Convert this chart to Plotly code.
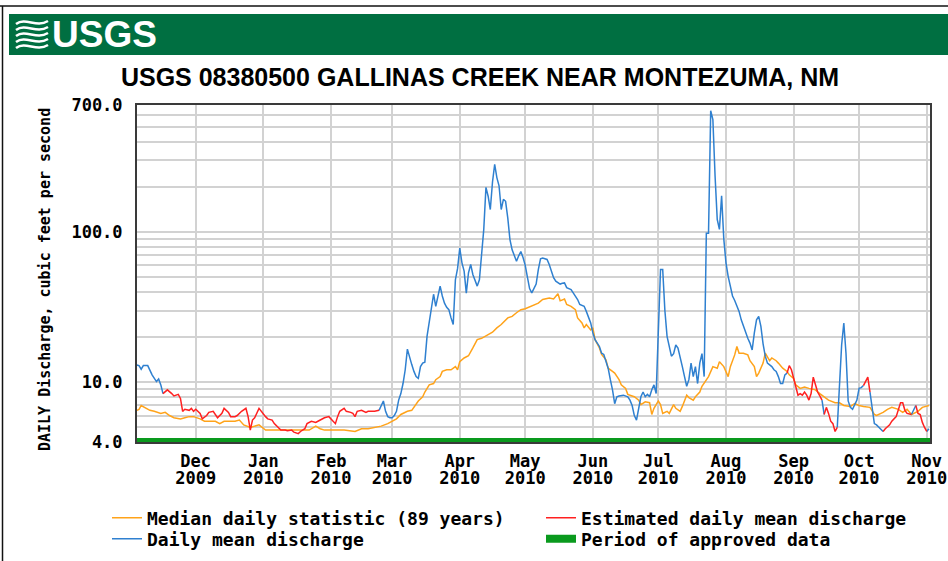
import plotly.graph_objects as go

# ---------------- data ----------------
month_ticks = ["2009-12-01", "2010-01-01", "2010-02-01", "2010-03-01", "2010-04-01", "2010-05-01",
               "2010-06-01", "2010-07-01", "2010-08-01", "2010-09-01", "2010-10-01", "2010-11-01"]
month_labels = ["Dec", "Jan", "Feb", "Mar", "Apr", "May", "Jun", "Jul", "Aug", "Sep", "Oct", "Nov"]
year_labels = ["2009", "2010", "2010", "2010", "2010", "2010", "2010", "2010", "2010", "2010", "2010", "2010"]

y_tick_values = [4, 5, 6, 7, 8, 9, 10, 20, 30, 40, 50, 60, 70, 80, 90, 100, 200, 300, 400, 500, 600, 700]
y_tick_labels = ["4.0", "", "", "", "", "", "10.0", "", "", "", "", "", "", "", "", "100.0",
                 "", "", "", "", "", "700.0"]

# Median daily statistic (89 years)
median_dates = [
    "2009-11-04", "2009-11-05", "2009-11-06", "2009-11-08", "2009-11-10", "2009-11-12", "2009-11-15",
    "2009-11-17", "2009-11-19", "2009-11-21", "2009-11-24", "2009-11-26", "2009-11-28", "2009-11-30",
    "2009-12-03", "2009-12-05", "2009-12-07", "2009-12-10", "2009-12-12", "2009-12-14", "2009-12-17",
    "2009-12-19", "2009-12-21", "2009-12-23", "2009-12-26", "2009-12-28", "2009-12-30",
    "2010-01-02", "2010-01-05", "2010-01-08", "2010-01-11", "2010-01-14", "2010-01-17", "2010-01-20",
    "2010-01-22", "2010-01-25", "2010-01-27", "2010-01-29", "2010-02-01", "2010-02-04", "2010-02-07",
    "2010-02-12", "2010-02-15", "2010-02-18", "2010-02-21", "2010-02-24", "2010-02-27",
    "2010-03-01", "2010-03-03", "2010-03-05", "2010-03-08", "2010-03-10", "2010-03-12", "2010-03-13",
    "2010-03-15", "2010-03-16", "2010-03-18", "2010-03-20", "2010-03-21", "2010-03-23", "2010-03-24",
    "2010-03-26", "2010-03-28", "2010-03-30", "2010-03-31", "2010-04-01", "2010-04-03", "2010-04-05",
    "2010-04-07", "2010-04-09", "2010-04-11", "2010-04-14", "2010-04-16", "2010-04-18", "2010-04-20",
    "2010-04-23", "2010-04-25", "2010-04-27", "2010-04-29", "2010-05-01", "2010-05-04", "2010-05-07",
    "2010-05-09", "2010-05-12", "2010-05-14", "2010-05-16", "2010-05-17", "2010-05-19", "2010-05-20",
    "2010-05-22", "2010-05-24", "2010-05-25", "2010-05-27", "2010-05-28", "2010-05-29", "2010-05-31",
    "2010-06-01", "2010-06-02", "2010-06-04", "2010-06-05", "2010-06-07", "2010-06-08", "2010-06-10",
    "2010-06-11", "2010-06-13", "2010-06-14", "2010-06-16", "2010-06-17", "2010-06-19", "2010-06-20",
    "2010-06-22", "2010-06-23", "2010-06-25", "2010-06-27", "2010-06-28", "2010-06-29",
    "2010-07-01", "2010-07-02", "2010-07-03", "2010-07-05", "2010-07-06", "2010-07-08", "2010-07-09",
    "2010-07-11", "2010-07-12", "2010-07-14", "2010-07-15", "2010-07-17", "2010-07-18", "2010-07-20",
    "2010-07-21", "2010-07-23", "2010-07-24", "2010-07-26", "2010-07-28", "2010-07-29", "2010-07-31",
    "2010-08-02", "2010-08-03", "2010-08-05", "2010-08-06", "2010-08-07", "2010-08-09", "2010-08-11",
    "2010-08-12", "2010-08-14", "2010-08-15", "2010-08-16", "2010-08-18", "2010-08-19", "2010-08-21",
    "2010-08-22", "2010-08-24", "2010-08-25", "2010-08-27", "2010-08-29", "2010-08-30",
    "2010-09-01", "2010-09-02", "2010-09-04", "2010-09-06", "2010-09-08", "2010-09-11", "2010-09-13",
    "2010-09-15", "2010-09-17", "2010-09-20", "2010-09-22", "2010-09-24", "2010-09-27", "2010-09-29",
    "2010-10-01", "2010-10-03", "2010-10-06", "2010-10-08", "2010-10-09", "2010-10-12", "2010-10-14",
    "2010-10-16", "2010-10-19", "2010-10-21", "2010-10-23", "2010-10-25", "2010-10-28", "2010-10-30",
    "2010-11-01", "2010-11-02",
]
median_cfs = [
    6.5, 6.6, 7.0, 6.7, 6.5, 6.4, 6.2,
    6.3, 6.0, 5.8, 5.7, 5.8, 5.9, 5.9,
    5.7, 5.5, 5.5, 5.5, 5.3, 5.5, 5.5,
    5.5, 5.6, 5.2, 5.0, 5.1, 5.2,
    4.8, 4.8, 4.8, 4.8, 4.75, 4.8, 4.8,
    4.8, 5.1, 4.9, 4.8, 4.8, 4.8, 4.8,
    4.7, 4.9, 4.9, 5.0, 5.1, 5.3,
    5.5, 5.7, 6.1, 6.4, 6.5, 7.1, 7.5,
    8.0, 8.6, 9.6, 9.8, 10.4, 10.9, 11.8,
    12.1, 12.1, 12.7, 12.1, 13.7, 14.5, 15.0,
    16.9, 19.2, 19.6, 20.8, 21.5, 23.0, 24.2,
    26.8, 27.4, 29.0, 30.4, 30.8, 32.0, 33.6,
    35.5, 36.3, 35.8, 38.8, 34.8, 35.8, 32.9,
    32.0, 30.4, 26.8, 24.8, 23.0, 24.2, 22.3,
    23.0, 19.2, 16.9, 15.3, 14.1, 12.4, 11.8,
    11.5, 10.4, 9.6, 9.1, 8.3, 8.1, 8.0,
    7.6, 7.1, 7.4, 7.3, 6.1, 6.7,
    7.5, 7.1, 6.2, 6.4, 6.2, 7.1, 6.7,
    6.4, 6.9, 8.2, 7.9, 7.6, 8.0, 8.6,
    9.4, 10.4, 10.9, 12.7, 12.4, 13.7, 12.7,
    10.9, 12.7, 15.2, 17.3, 15.6, 15.6, 15.2,
    13.9, 12.7, 10.9, 11.5, 13.4, 15.6, 13.9,
    14.5, 13.9, 13.4, 12.4, 11.8, 11.2,
    10.6, 9.6, 9.1, 9.3, 9.1, 8.9, 8.4,
    8.0, 7.6, 7.3, 7.3, 7.0, 6.9, 7.2,
    7.0, 6.9, 6.8, 6.1, 6.0, 6.3, 6.6,
    6.8, 6.6, 6.3, 6.6, 6.1, 6.4, 6.8,
    6.9, 7.0,
]

# Daily mean discharge (approved) -- None marks a break in the line
daily_dates = [
    "2009-11-04", "2009-11-05", "2009-11-06", "2009-11-07", "2009-11-09", "2009-11-10", "2009-11-11",
    "2009-11-13", "2009-11-14", "2009-11-15", "2009-11-16", None,
    "2010-02-23", "2010-02-24", "2010-02-25", "2010-02-26", "2010-02-27", "2010-02-28",
    "2010-03-01", "2010-03-02", "2010-03-03", "2010-03-04", "2010-03-05", "2010-03-06", "2010-03-07",
    "2010-03-08", "2010-03-09", "2010-03-10", "2010-03-11", "2010-03-12", "2010-03-13", "2010-03-14",
    "2010-03-15", "2010-03-16", "2010-03-17", "2010-03-18", "2010-03-19", "2010-03-20", "2010-03-21",
    "2010-03-22", "2010-03-23", "2010-03-24", "2010-03-25", "2010-03-26", "2010-03-27", "2010-03-28",
    "2010-03-29", "2010-03-30", "2010-03-31", "2010-04-01", "2010-04-02", "2010-04-03", "2010-04-04",
    "2010-04-05", "2010-04-06", "2010-04-07", "2010-04-08", "2010-04-09", "2010-04-10", "2010-04-11",
    "2010-04-12", "2010-04-13", "2010-04-14", "2010-04-15", "2010-04-16", "2010-04-17", "2010-04-18",
    "2010-04-19", "2010-04-20", "2010-04-21", "2010-04-22", "2010-04-23", "2010-04-24", "2010-04-25",
    "2010-04-26", "2010-04-27", "2010-04-28", "2010-04-29", "2010-04-30", "2010-05-01", "2010-05-02",
    "2010-05-03", "2010-05-04", "2010-05-05", "2010-05-06", "2010-05-07", "2010-05-08", "2010-05-09",
    "2010-05-10", "2010-05-11", "2010-05-12", "2010-05-13", "2010-05-14", "2010-05-15", "2010-05-16",
    "2010-05-17", "2010-05-18", "2010-05-19", "2010-05-20", "2010-05-22", "2010-05-23", "2010-05-25",
    "2010-05-26", "2010-05-28", "2010-05-29", "2010-05-30", "2010-05-31", "2010-06-01", "2010-06-02",
    "2010-06-04", "2010-06-05", "2010-06-06", "2010-06-07", "2010-06-08", "2010-06-09", "2010-06-10",
    "2010-06-11", "2010-06-12", "2010-06-13", "2010-06-15", "2010-06-17", "2010-06-18", "2010-06-19",
    "2010-06-20", "2010-06-21", "2010-06-22", "2010-06-23", "2010-06-24", "2010-06-25", "2010-06-26",
    "2010-06-27", "2010-06-28", "2010-06-29", "2010-06-30", "2010-07-01", "2010-07-02", "2010-07-03",
    "2010-07-04", "2010-07-05", "2010-07-06", "2010-07-07", "2010-07-08", "2010-07-09", "2010-07-10",
    "2010-07-11", "2010-07-12", "2010-07-13", "2010-07-14", "2010-07-15", "2010-07-16", "2010-07-17",
    "2010-07-18", "2010-07-19", "2010-07-20", "2010-07-21", "2010-07-22", "2010-07-23", "2010-07-24",
    "2010-07-25", "2010-07-26", "2010-07-27", "2010-07-28", "2010-07-29", "2010-07-30", "2010-07-31",
    "2010-08-01", "2010-08-02", "2010-08-03", "2010-08-04", "2010-08-05", "2010-08-06", "2010-08-07",
    "2010-08-08", "2010-08-09", "2010-08-10", "2010-08-11", "2010-08-12", "2010-08-13", "2010-08-14",
    "2010-08-15", "2010-08-16", "2010-08-17", "2010-08-18", "2010-08-19", "2010-08-20", "2010-08-21",
    "2010-08-22", "2010-08-23", "2010-08-24", "2010-08-25", "2010-08-26", "2010-08-27", "2010-08-28",
    "2010-08-29", None,
    "2010-09-14", "2010-09-15", None,
    "2010-09-21", "2010-09-22", "2010-09-23", "2010-09-24", "2010-09-25", "2010-09-26", "2010-09-27",
    "2010-09-28", "2010-09-29", "2010-09-30", "2010-10-01", "2010-10-02", "2010-10-03", None,
    "2010-10-06", "2010-10-07", "2010-10-08", "2010-10-09", "2010-10-11", "2010-10-12", None,
    "2010-10-25", "2010-10-26", "2010-10-27", None,
    "2010-11-01", "2010-11-02",
]
daily_cfs = [
    13.0, 12.9, 12.2, 12.9, 12.9, 12.0, 11.2,
    10.1, 10.5, 9.6, 8.4, None,
    6.5, 7.0, 7.5, 6.4, 5.9, 5.8,
    5.8, 6.0, 6.4, 7.6, 8.4, 9.8, 12.1,
    16.6, 14.5, 13.1, 11.8, 10.9, 10.6, 12.7,
    13.4, 13.6, 20.2, 24.8, 30.4, 38.5, 32.0,
    37.5, 43.6, 37.5, 33.6, 31.5, 30.4, 26.8,
    24.2, 48.1, 57.2, 78.0, 62.3, 54.9, 39.2,
    53.5, 60.8, 52.1, 47.0, 43.6, 48.1, 69.4,
    104, 198, 173, 141, 215, 282, 230,
    203, 141, 165, 160, 124, 89, 76,
    69.4, 63.9, 69.4, 74, 67.6, 60, 50,
    42, 39.3, 42.6, 45, 56.2, 66.3, 67,
    66.5, 65.6, 60.8, 54.8, 49.6, 47, 45.8,
    45, 45.5, 45.8, 42.6, 41.4, 39.3, 35.5,
    32.9, 32, 29.6, 27.4, 24.8, 21.3, 19.2,
    17.3, 15.6, 15.3, 13.7, 12.4, 10.4, 8.9,
    7.2, 8.0, 8.1, 8.2, 8.0, 7.6, 7.0,
    6.0, 5.6, 6.8, 8.0, 8.6, 8.0, 8.3,
    8.0, 8.9, 9.6, 8.4, 21.3, 56.2, 56.2,
    30, 20.2, 17.3, 14.9, 15.5, 17.7, 16.9,
    14.9, 12.7, 10.9, 9.4, 10.4, 13.4, 10.9,
    12.7, 9.8, 13.4, 15.5, 10.9, 98, 98,
    641, 560, 236, 121, 104, 174, 90,
    62.3, 50.7, 43.6, 37.5, 35.0, 32.0, 29.6,
    26.0, 23.5, 21.3, 19.6, 18.2, 16.4, 21.3,
    26.0, 27.4, 23.5, 18.0, 14.9, 13.4, 13.0,
    12.7, 12.1, 11.8, 10.9, 9.8, 9.8, 11.2,
    11.5, None,
    7.6, 6.1, None,
    5.0, 9.1, 17.7, 24.8, 15.6, 7.5, 6.8,
    6.6, 7.1, 7.6, 9.1, 9.2, 9.5, None,
    8.6, 6.6, 5.3, 5.2, 4.9, 4.7, None,
    6.1, 6.6, 7.0, None,
    4.7, 4.9,
]

# Estimated daily mean discharge -- None marks a break in the line
estimated_dates = [
    "2009-11-16", "2009-11-18", "2009-11-20", "2009-11-21", "2009-11-23", "2009-11-24", "2009-11-25",
    "2009-11-26", "2009-11-28", "2009-11-29", "2009-11-30", "2009-12-01", "2009-12-03", "2009-12-04",
    "2009-12-06", "2009-12-07", "2009-12-09", "2009-12-10", "2009-12-11", "2009-12-13", "2009-12-14",
    "2009-12-16", "2009-12-17", "2009-12-19", "2009-12-20", "2009-12-22", "2009-12-24", "2009-12-25",
    "2009-12-26", "2009-12-27", "2009-12-28", "2009-12-30", "2009-12-31", "2010-01-02", "2010-01-03",
    "2010-01-05", "2010-01-06", "2010-01-08", "2010-01-09", "2010-01-11", "2010-01-12", "2010-01-14",
    "2010-01-15", "2010-01-17", "2010-01-18", "2010-01-20", "2010-01-21", "2010-01-23", "2010-01-25",
    "2010-01-26", "2010-01-28", "2010-01-29", "2010-01-31", "2010-02-01", "2010-02-03", "2010-02-04",
    "2010-02-05", "2010-02-07", "2010-02-08", "2010-02-10", "2010-02-11", "2010-02-12", "2010-02-13",
    "2010-02-15", "2010-02-17", "2010-02-18", "2010-02-20", "2010-02-21", "2010-02-23", None,
    "2010-08-29", "2010-08-30", "2010-08-31", "2010-09-01", "2010-09-02", "2010-09-03", "2010-09-04",
    "2010-09-05", "2010-09-06", "2010-09-07", "2010-09-08", "2010-09-09", "2010-09-10", "2010-09-11",
    "2010-09-12", "2010-09-13", "2010-09-14", None,
    "2010-09-15", "2010-09-16", "2010-09-17", "2010-09-18", "2010-09-19", "2010-09-20", "2010-09-21", None,
    "2010-10-03", "2010-10-04", "2010-10-05", "2010-10-06", None,
    "2010-10-12", "2010-10-13", "2010-10-15", "2010-10-16", "2010-10-18", "2010-10-19", "2010-10-20",
    "2010-10-21", "2010-10-22", "2010-10-23", "2010-10-25", None,
    "2010-10-27", "2010-10-28", "2010-10-29", "2010-10-30", "2010-10-31", "2010-11-01",
]
estimated_cfs = [
    8.4, 8.9, 8.4, 8.1, 8.3, 7.8, 6.4,
    6.6, 6.5, 6.7, 6.4, 6.6, 6.2, 5.7,
    6.0, 6.3, 6.4, 6.1, 5.8, 6.2, 6.7,
    6.3, 5.9, 5.9, 6.0, 6.4, 6.7, 5.9,
    4.8, 5.6, 5.8, 6.7, 6.4, 5.9, 5.7,
    5.6, 5.3, 5.0, 4.8, 4.8, 4.75, 4.8,
    4.65, 4.55, 4.7, 4.9, 5.3, 5.5, 5.4,
    5.5, 5.7, 5.8, 5.9, 5.7, 5.3, 5.9,
    6.4, 6.7, 6.4, 6.3, 6.2, 5.9, 6.4,
    6.5, 6.3, 6.4, 6.4, 6.4, 6.5, None,
    11.5, 12.9, 12.1, 10.6, 9.2, 8.2, 8.4,
    8.2, 8.6, 8.2, 7.6, 8.4, 10.8, 9.5,
    8.6, 8.1, 7.6, None,
    6.1, 6.8, 6.2, 5.5, 5.3, 4.7, 5.0, None,
    9.5, 10.2, 10.8, 8.6, None,
    4.7, 4.9, 5.2, 5.5, 5.9, 6.5, 7.3,
    7.3, 6.5, 6.2, 6.1, None,
    7.0, 6.2, 6.1, 5.4, 5.0, 4.7,
]

approved_period = ["2009-11-01", "2010-11-05"]
approved_level = [4, 4]

# ---------------- styling helpers ----------------
W, H = 948, 561
L, R, T, B = 137, 930, 105, 442   # plot area in pixels
MONO = "DejaVu Sans Mono"


def px(x):
    return (x - L) / (R - L)


def py(y):
    return (B - y) / (B - T)


x_range = ["2009-11-04 02:00", "2010-11-02 12:00"]

fig = go.Figure()

fig.add_trace(go.Scatter(x=median_dates, y=median_cfs, mode="lines",
                         line=dict(color="#ffa31a", width=1.5),
                         name="Median daily statistic (89 years)", legend="legend"))
fig.add_trace(go.Scatter(x=daily_dates, y=daily_cfs, mode="lines", connectgaps=False,
                         line=dict(color="#2f80d0", width=1.5),
                         name="Daily mean discharge", legend="legend3"))
fig.add_trace(go.Scatter(x=estimated_dates, y=estimated_cfs, mode="lines", connectgaps=False,
                         line=dict(color="#ff2020", width=1.5),
                         name="Estimated daily mean discharge", legend="legend2"))
fig.add_trace(go.Scatter(x=approved_period, y=approved_level, mode="lines", xaxis="x2",
                         line=dict(color="#0a9a1e", width=8),
                         name="Period of approved data", legend="legend4"))

shapes = []
# outer frame lines
shapes.append(dict(type="line", xref="paper", yref="paper", x0=px(0), x1=px(W), y0=py(6), y1=py(6),
                   line=dict(color="#111111", width=1.5)))
shapes.append(dict(type="line", xref="paper", yref="paper", x0=px(2.5), x1=px(2.5), y0=py(6), y1=py(H),
                   line=dict(color="#111111", width=1.5)))
# green header band
shapes.append(dict(type="rect", xref="paper", yref="paper", x0=px(9), x1=px(W + 2), y0=py(55), y1=py(14),
                   fillcolor="#006f41", line=dict(width=0), layer="below"))
# USGS wave mark
for i in range(5):
    yy = 22 + i * 6
    path = "M {} C {} {} {}".format(
        "{:.5f},{:.5f}".format(px(16), py(yy + 2)),
        "{:.5f},{:.5f}".format(px(26), py(yy - 5)),
        "{:.5f},{:.5f}".format(px(36), py(yy + 6)),
        "{:.5f},{:.5f}".format(px(48), py(yy - 1)))
    shapes.append(dict(type="path", xref="paper", yref="paper", path=path,
                       line=dict(color="white", width=2.6)))

annotations = [
    dict(text="<b>USGS</b>", x=px(50), y=py(35), xref="paper", yref="paper", xanchor="left",
         yanchor="middle", showarrow=False,
         font=dict(family="Liberation Sans Narrow, Liberation Sans, Arial", size=37, color="white")),
    dict(text="DAILY Discharge, cubic feet per second", x=px(45), y=py(280), xref="paper",
         yref="paper", xanchor="center", yanchor="middle", textangle=-90, showarrow=False,
         font=dict(family=MONO, size=15, color="black", weight="bold")),
]

axis_common = dict(showline=True, mirror=True, linecolor="#3a3a3a", linewidth=2,
                   gridcolor="#d2d2d2", gridwidth=2, zeroline=False, ticks="")

legend_font = dict(family=MONO, size=18, color="black", weight="bold")


def legend_box(x_px, y_px):
    return dict(orientation="v", x=px(x_px), y=py(y_px), xanchor="left", yanchor="middle",
                font=legend_font, tracegroupgap=0, bgcolor="rgba(0,0,0,0)",
                itemclick=False, itemdoubleclick=False)


fig.update_layout(
    width=W, height=H,
    margin=dict(l=L, r=W - R, t=T, b=H - B, pad=0, autoexpand=False),
    paper_bgcolor="white", plot_bgcolor="white",
    title=dict(text="<b>USGS 08380500 GALLINAS CREEK NEAR MONTEZUMA, NM</b>",
               x=480 / W, xanchor="center", y=1 - 77 / H, yanchor="middle",
               xref="container", yref="container",
               font=dict(family="Liberation Sans, Arial", size=25, color="black")),
    xaxis=dict(type="date", range=x_range, tickmode="array", tickvals=month_ticks, ticktext=month_labels,
               tickfont=dict(family=MONO, size=17, color="black", weight="bold"),
               ticklabelstandoff=3, showgrid=True, **axis_common),
    xaxis2=dict(type="date", range=x_range, overlaying="x", anchor="y", side="bottom",
                tickmode="array", tickvals=month_ticks, ticktext=year_labels,
                tickfont=dict(family=MONO, size=17, color="black", weight="bold"),
                ticklabelstandoff=24, showgrid=False, showline=False, zeroline=False, ticks=""),
    yaxis=dict(type="log", range=[0.60206, 2.845098], tickmode="array", tickvals=y_tick_values,
               ticktext=y_tick_labels, tickfont=dict(family=MONO, size=17, color="black", weight="bold"),
               ticklabelstandoff=9, showgrid=True, **axis_common),
    showlegend=True,
    legend=legend_box(107, 518),
    legend2=legend_box(541, 518),
    legend3=legend_box(107, 539),
    legend4=legend_box(541, 539),
    shapes=shapes,
    annotations=annotations,
    hovermode=False,
)

fig.write_html("out.html", config={"displayModeBar": False, "staticPlot": True},
               post_script="document.body.style.margin='0px';document.body.style.overflow='hidden';")
